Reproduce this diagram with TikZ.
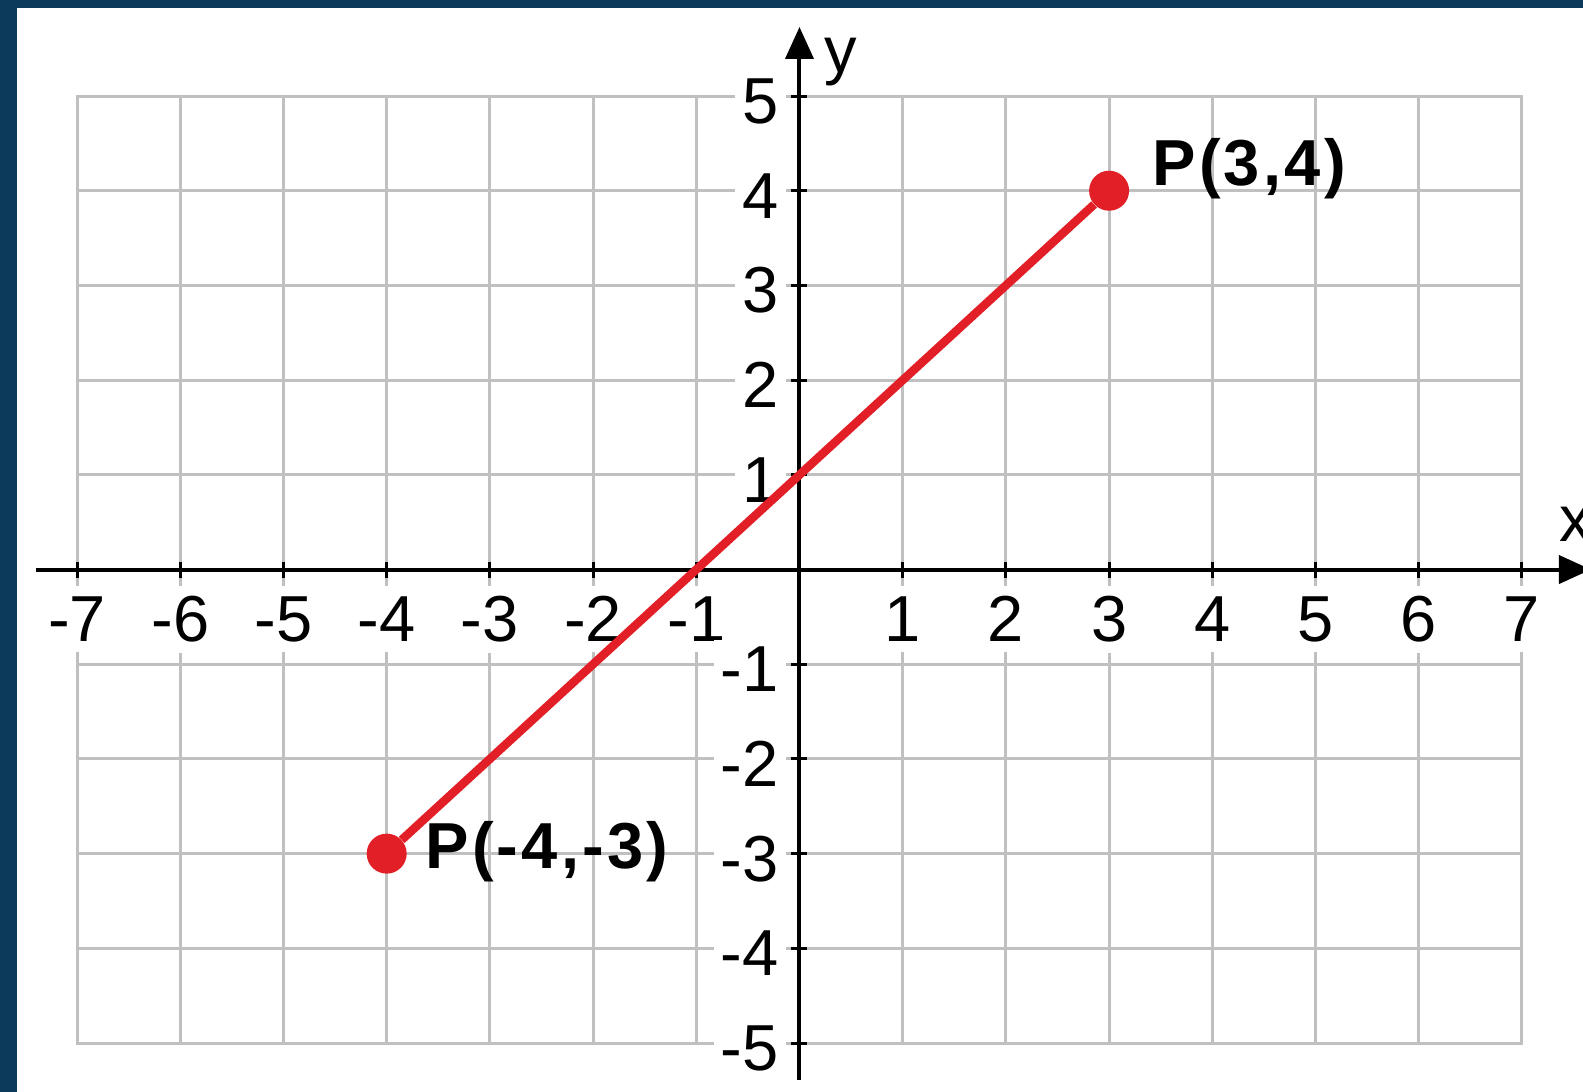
\documentclass[tikz,border=0pt]{standalone}
\usepackage{fontspec}
\setmainfont{Liberation Sans}
\usetikzlibrary{arrows.meta}
\definecolor{frameblue}{RGB}{ 12, 58, 90}
\definecolor{gridgray} {RGB}{192,192,192}
\definecolor{ptred}    {RGB}{226, 30, 38}
\tikzset{
  gridln/.style ={draw=gridgray,line width=0.06cm,line cap=rect},
  axis/.style   ={line width=0.08cm,-{Triangle[length=0.64cm,width=0.56cm]}},
  tickmk/.style ={line width=0.06cm},
  num/.style    ={fill=white,inner sep=0.14cm,font=\fontsize{37}{40}\selectfont},
  xnum/.style   ={num,inner ysep=0.21cm},
  axlbl/.style  ={anchor=base west,inner sep=0pt,font=\fontsize{37}{40}\selectfont},
  ptdot/.style  ={circle,fill=ptred,minimum size=0.8cm,inner sep=0pt},
  seg/.style    ={draw=ptred,line width=0.17cm},
  plbl/.style   ={anchor=base west,inner sep=0pt,
                  font=\fontsize{37}{40}\selectfont\bfseries\addfontfeature{LetterSpace=5}},
}

\begin{document}
\begin{tikzpicture}[x=2.064cm,y=1.894cm]
  \useasboundingbox (-7.747,-5.517) rectangle (7.592,6.014);
  \fill[white]     (-7.747,-5.517) rectangle (7.592,6.014);
  \fill[frameblue] (-7.747,5.929)  rectangle (7.592,6.014);
  \fill[frameblue] (-7.747,-5.517) rectangle (-7.582,6.014);

  % grid
  \foreach \i in {-7,...,7} \draw[gridln] (\i,-5) -- (\i,5);
  \foreach \j in {-5,...,5} \draw[gridln] (-7,\j) -- (7,\j);

  % tick labels
  \foreach \i in {-7,...,-1,1,2,...,7}
    \node[xnum] (xl\i) at (\i,-0.523) {\i};
  \foreach \j in {-5,...,-1,1,2,...,5}
    \node[num,anchor=east,xshift=-0.27cm,yshift=-0.1cm] (yl\j) at (0,\j) {\j};

  % axes
  \coordinate (xbeg) at (-7.398,0);
  \coordinate (xend) at (7.669,0);
  \coordinate (ybeg) at (0,-5.391);
  \coordinate (yend) at (0,5.729);
  \draw[axis] (xbeg) -- (xend);
  \draw[axis] (ybeg) -- (yend);
  \foreach \i in {-7,...,-1,1,2,...,7}
    \draw[tickmk] (\i,0) +(0pt,-0.16cm) -- +(0pt,0.16cm);
  \foreach \j in {-5,...,-1,1,2,...,5}
    \draw[tickmk] (0,\j) +(-0.16cm,0pt) -- +(0.16cm,0pt);
  \node[axlbl] (xlab) at (7.36,0.301) {x};
  \node[axlbl,xshift=0.5cm] (ylab) at (0,5.253) {y};

  % segment
  \node[ptdot] (pb) at (-4,-3) {};
  \node[ptdot] (pa) at (3,4) {};
  \draw[seg] (pb) -- (pa);
  \node[plbl,xshift=0.86cm,yshift=0.1cm]  (pal) at (pa) {P(3,4)};
  \node[plbl,xshift=0.77cm,yshift=-0.29cm] (pbl) at (pb) {P(-4,-3)};
\end{tikzpicture}
\end{document}
